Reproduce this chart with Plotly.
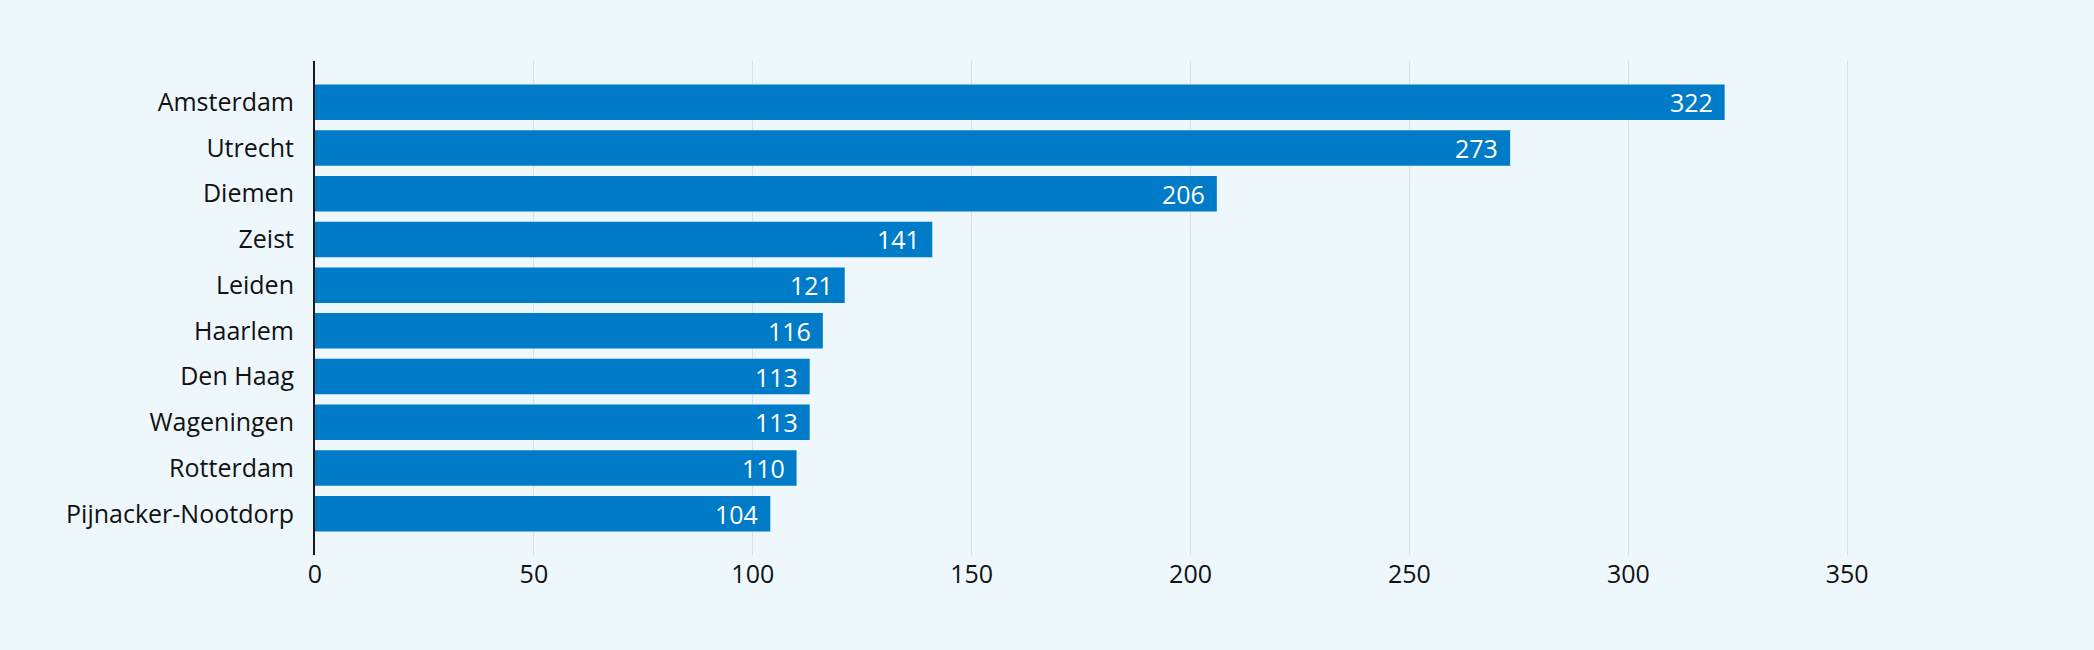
import plotly.graph_objects as go

categories = ["Amsterdam", "Utrecht", "Diemen", "Zeist", "Leiden", "Haarlem",
              "Den Haag", "Wageningen", "Rotterdam", "Pijnacker-Nootdorp"]
values = [322, 273, 206, 141, 121, 116, 113, 113, 110, 104]
x_ticks = [0, 50, 100, 150, 200, 250, 300, 350]

BG = "#EEF7FC"
BAR = "#007BC7"
GRID = "#CDE4F3"
FONT = "Open Sans, Noto Sans, sans-serif"

fig = go.Figure()
fig.add_trace(go.Bar(
    x=values, y=categories, orientation="h",
    marker=dict(color=BAR, line=dict(width=0)),
    hoverinfo="skip",
))

for c, v in zip(categories, values):
    fig.add_annotation(x=v, y=c, xref="x", yref="y", text=str(v),
                       showarrow=False, xanchor="right", xshift=-10,
                       font=dict(family=FONT, size=25, color="white"))

fig.update_layout(
    width=2094, height=650,
    paper_bgcolor=BG, plot_bgcolor=BG,
    margin=dict(l=315, r=203, t=61, b=95),
    bargap=0.224,
    showlegend=False,
    font=dict(family=FONT, size=25, color="#111111"),
)
fig.update_xaxes(
    range=[0, 360], tickvals=x_ticks, ticktext=[str(t) for t in x_ticks],
    showgrid=True, gridcolor=GRID, gridwidth=1,
    zeroline=False, showline=False, ticks="",
    tickfont=dict(family=FONT, size=25, color="#111111"),
    ticklabelstandoff=2,
)
fig.update_yaxes(
    categoryorder="array", categoryarray=categories,
    range=[9.9, -0.9],
    showgrid=False, zeroline=False,
    showline=True, linecolor="#1a1a1a", linewidth=2,
    ticks="", ticklabelstandoff=14,
    tickfont=dict(family=FONT, size=25, color="#111111"),
)

fig.write_html("out.html")
